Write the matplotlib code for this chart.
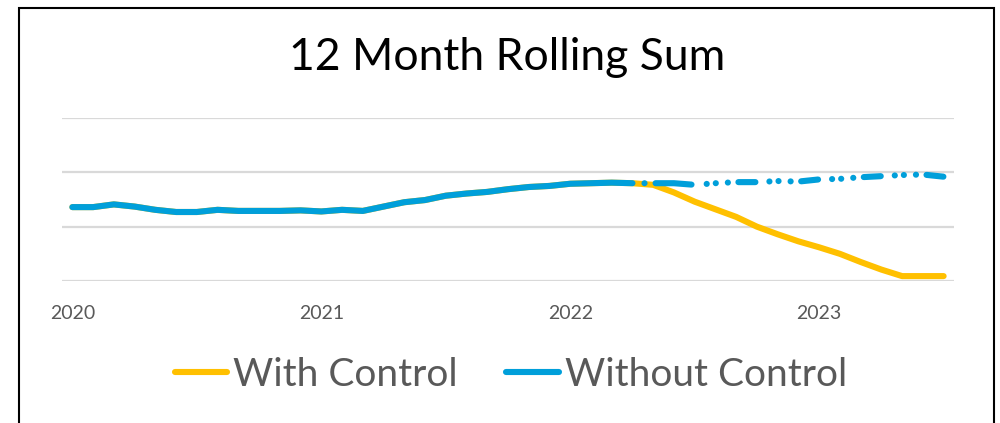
import matplotlib
matplotlib.use("Agg")
import matplotlib.pyplot as plt
from matplotlib.lines import Line2D
from matplotlib.patches import Rectangle

# monthly values, Jan 2020 .. Apr 2022 (both series share this part)
history = [136, 136, 141, 137, 131, 127, 127, 131, 129, 129, 129, 130,
           128, 131, 129, 137, 145, 149, 157, 161, 164, 169, 173, 175,
           179, 180, 181, 180]
# May 2022 .. Jul 2023
with_control_fc = [177, 163, 146, 132, 118, 100, 86, 73, 62, 50, 35, 21, 9, 9, 9]
without_control_fc = [180, 180, 177, 180, 182, 182, 184, 183, 187, 188, 191, 193, 195, 196, 192]

year_ticks = [0, 12, 24, 36]
year_labels = ["2020", "2021", "2022", "2023"]
grid_values = [0, 100, 200, 300]

YELLOW = "#FFC000"
BLUE = "#009FDA"
GREY_TXT = "#595959"

plt.rcParams["font.family"] = ["Lato", "DejaVu Sans"]
plt.rcParams["lines.scale_dashes"] = False

PX = 0.72  # pixels -> points at dpi 100


def px(seq):
    return [v * PX for v in seq]


fig = plt.figure(figsize=(10, 4.23), dpi=100)
ax = fig.add_axes([0.062, 0.3357, 0.892, 0.3853])

with_control = history + with_control_fc
n = len(with_control)
months = list(range(n))
lw = 4.4

# yellow under the blue
ax.plot(months, with_control, color=YELLOW, lw=lw, solid_capstyle="round",
        solid_joinstyle="round", zorder=2)

# blue solid part
h = len(history)
ax.plot(months[:h], history, color=BLUE, lw=lw, solid_capstyle="round",
        solid_joinstyle="round", zorder=3)

# blue projected part, drawn in two pieces to follow the dash pattern
blue_fc = [history[-1]] + without_control_fc
fc_x = months[h - 1:]
ax.plot(fc_x[:4], blue_fc[:4], color=BLUE, lw=lw, zorder=3,
        dash_capstyle="round", dash_joinstyle="round",
        linestyle=(55.1 * PX, px([0.1, 11, 36, 20])))
ax.plot(fc_x[3:], blue_fc[3:], color=BLUE, lw=lw, zorder=3,
        dash_capstyle="round", dash_joinstyle="round",
        linestyle=(19 * PX, px([17, 14, 0.1, 9, 0.1, 12, 0.1, 10.5])))

ax.set_xlim(-0.5, n - 0.5)
ax.set_ylim(0, 300)
ax.set_yticks(grid_values)
ax.set_yticklabels([])
ax.set_xticks(year_ticks)
ax.set_xticklabels(year_labels, fontsize=14, color=GREY_TXT)
ax.tick_params(length=0)
ax.tick_params(axis="x", pad=17)
ax.grid(axis="y", color="#D9D9D9", lw=1.6)
ax.set_axisbelow(True)
for s in ax.spines.values():
    s.set_visible(False)

fig.text(0.507, 1 - 58 / 423, "12 Month Rolling Sum", ha="center", va="center",
         fontsize=32, color="black")

handles = [Line2D([], [], color=YELLOW, lw=lw, solid_capstyle="round"),
           Line2D([], [], color=BLUE, lw=lw, solid_capstyle="round")]
fig.legend(handles, ["With Control", "Without Control"], loc="center",
           bbox_to_anchor=(0.511, 1 - 375 / 423), ncol=2, frameon=False,
           fontsize=28, labelcolor=GREY_TXT, handlelength=1.35,
           handletextpad=0.15, columnspacing=1.25)

# chart border (bottom edge is outside the picture)
fig.patches.append(Rectangle((0.019, -0.05), 0.975, 1 - 8 / 423 + 0.05,
                             transform=fig.transFigure, fill=False,
                             edgecolor="black", lw=1.5))

fig.savefig("out.png", dpi=100, facecolor="white")
